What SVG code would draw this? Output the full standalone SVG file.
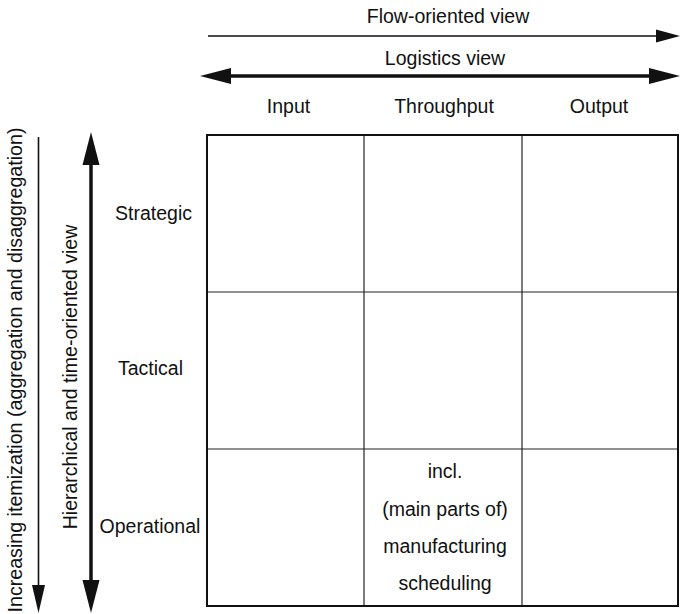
<svg xmlns="http://www.w3.org/2000/svg" width="680" height="614" viewBox="0 0 680 614">
  <style>
    text { font-family: "Liberation Sans", Arial, sans-serif; font-size: 19.5px; fill: #111; text-anchor: middle; }
    .thin { stroke: #111; stroke-width: 1.6; fill: none; }
    .thick { stroke: #111; stroke-width: 3.5; fill: none; }
    .grid { stroke: #222; stroke-width: 1.2; fill: none; }
    .frame { stroke: #111; stroke-width: 2; fill: none; }
    .head { fill: #111; stroke: none; }
  </style>

  <g id="connectors">
    <!-- flow-oriented view -->
    <line class="thin" x1="208" y1="36" x2="660" y2="36"/>
    <polygon class="head" points="680,36 656,29.5 656,42.5"/>
    <!-- logistics view -->
    <line class="thick" x1="225" y1="76" x2="656" y2="76"/>
    <polygon class="head" points="200,76 231,68 231,84"/>
    <polygon class="head" points="680,76 649,68 649,84"/>
    <!-- increasing itemization -->
    <line class="thin" x1="38.5" y1="137" x2="38.5" y2="590"/>
    <polygon class="head" points="38.5,613 32,585 45,585"/>
    <!-- hierarchical view -->
    <line class="thick" x1="91" y1="155" x2="91" y2="590"/>
    <polygon class="head" points="91,132 82.5,165 99.5,165"/>
    <polygon class="head" points="91,613 82.5,580 99.5,580"/>
  </g>

  <g id="view-labels">
    <text x="448" y="23">Flow-oriented view</text>
    <text x="445" y="65">Logistics view</text>
    <text x="288.5" y="113">Input</text>
    <text x="444" y="113">Throughput</text>
    <text x="599" y="113">Output</text>
    <text transform="translate(22,370) rotate(-90)" textLength="485" lengthAdjust="spacingAndGlyphs">Increasing itemization (aggregation and disaggregation)</text>
    <text transform="translate(77,377) rotate(-90)">Hierarchical and time-oriented view</text>
    <text x="153.5" y="220">Strategic</text>
    <text x="150.5" y="375">Tactical</text>
    <text x="150" y="533">Operational</text>
  </g>

  <g id="matrix">
    <line class="grid" x1="364" y1="135" x2="364" y2="606"/>
    <line class="grid" x1="522" y1="135" x2="522" y2="606"/>
    <line class="grid" x1="207" y1="292" x2="678" y2="292"/>
    <line class="grid" x1="207" y1="449" x2="678" y2="449"/>
    <rect class="frame" x="207" y="135" width="471" height="471"/>
  </g>

  <g id="cell-operational-throughput">
    <text x="445" y="478">incl.</text>
    <text x="445" y="516">(main parts of)</text>
    <text x="445" y="553">manufacturing</text>
    <text x="445" y="590">scheduling</text>
  </g>
</svg>
